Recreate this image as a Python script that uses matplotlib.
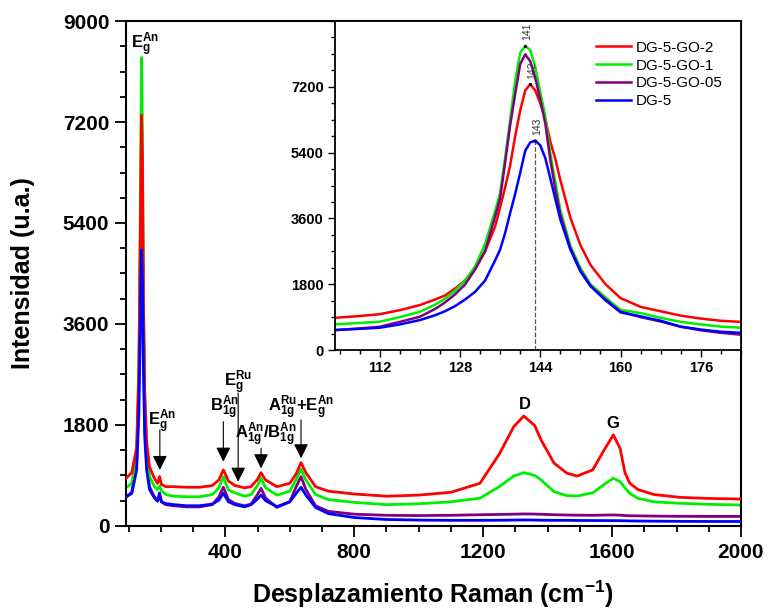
import numpy as np
import matplotlib.pyplot as plt
from matplotlib.ticker import MultipleLocator

plt.rcParams['font.family'] = ['Liberation Sans', 'DejaVu Sans']
plt.rcParams['mathtext.fontset'] = 'custom'
plt.rcParams['mathtext.rm'] = 'Liberation Sans:bold'
plt.rcParams['mathtext.it'] = 'Liberation Sans:bold'
plt.rcParams['mathtext.bf'] = 'Liberation Sans:bold'

# espectro completo (cm-1)
wn = [92, 110, 125, 132, 137, 140, 143, 146, 150, 156, 165, 180, 190, 196, 202,
      215, 240, 280, 320, 360, 380, 394, 410, 430, 460, 480, 500, 511, 525, 560,
      600, 620, 635, 650, 680, 720, 800, 900, 1000, 1100, 1190, 1250, 1295, 1326,
      1360, 1380, 1420, 1460, 1492, 1540, 1575, 1604, 1625, 1640, 1655, 1680,
      1730, 1810, 1900, 2000]

go2 = [850, 950, 1400, 2800, 5500, 7320, 6500, 4000, 2400, 1500, 1050, 850, 760, 880, 740,
       700, 700, 690, 690, 720, 820, 998, 800, 720, 680, 700, 830, 950, 820, 700,
       760, 930, 1128, 950, 700, 620, 570, 530, 550, 600, 760, 1280, 1770, 1960,
       1790, 1530, 1120, 940, 890, 1000, 1350, 1622, 1380, 950, 760, 650,
       560, 510, 490, 480]
go1 = [680, 760, 1250, 2800, 6000, 8350, 7000, 4200, 2300, 1350, 880, 700, 650, 713, 630,
       560, 530, 520, 520, 560, 680, 879, 640, 590, 530, 560, 720, 850, 680, 550,
       620, 830, 1010, 820, 560, 470, 420, 380, 395, 430, 495, 700, 890, 950,
       900, 820, 610, 540, 535, 590, 740, 850, 790, 680, 580, 493,
       430, 404, 385, 374]
go05 = [520, 600, 1100, 2500, 5000, 6900, 6000, 3500, 1900, 1100, 700, 520, 450, 560, 430,
        380, 360, 340, 340, 380, 520, 690, 470, 400, 360, 390, 560, 671, 500, 330,
        430, 700, 879, 650, 360, 260, 210, 190, 185, 190, 200, 205, 210, 214,
        212, 208, 200, 195, 192, 190, 194, 196, 192, 186, 182, 180,
        176, 172, 170, 170]
dg5 = [517, 580, 1000, 2000, 3800, 4920, 4300, 2800, 1600, 1000, 650, 500, 440, 588, 430,
       400, 380, 360, 360, 390, 460, 582, 430, 380, 340, 380, 480, 552, 450, 344,
       430, 580, 690, 550, 330, 220, 150, 115, 105, 100, 100, 102, 105, 107,
       105, 103, 100, 100, 98, 97, 96, 95, 94, 92, 90, 88,
       85, 82, 80, 80]

# zona del modo Eg (inserto)
wn_z = [103, 108, 112, 116, 120, 123, 125, 127, 129, 131, 133, 135, 136, 137, 138, 139,
        140, 141, 142, 143, 144, 145, 146, 147, 148, 150, 152, 154, 157, 160, 164,
        168, 172, 176, 180, 184]
go2_z = [880, 930, 980, 1090, 1230, 1380, 1490, 1680, 1900, 2250, 2700, 3380, 3900, 4450, 5050, 5850,
         6550, 7100, 7270, 7100, 6750, 6330, 5700, 5230, 4650, 3620, 2870, 2330, 1800, 1420, 1180,
         1060, 940, 860, 800, 770]
go1_z = [700, 740, 775, 900, 1045, 1240, 1400, 1620, 1900, 2280, 2900, 3800, 4300, 5260, 6300, 7360,
         8130, 8320, 8200, 7750, 7050, 6400, 5380, 4600, 3830, 2850, 2250, 1800, 1440, 1100, 1010,
         880, 770, 700, 640, 610]
go05_z = [545, 590, 636, 770, 910, 1120, 1300, 1520, 1790, 2200, 2700, 3650, 4150, 5130, 6150, 7000,
          7820, 8090, 7900, 7450, 6850, 6200, 5200, 4400, 3700, 2780, 2180, 1760, 1380, 1050, 900,
          780, 636, 540, 470, 420]
dg5_z = [545, 580, 609, 700, 818, 950, 1060, 1200, 1380, 1590, 1900, 2450, 2750, 3200, 3750, 4270,
         4850, 5450, 5680, 5730, 5600, 5250, 4700, 4130, 3570, 2750, 2150, 1750, 1360, 1030, 920,
         800, 640, 560, 500, 470]

nombres = ['DG-5-GO-2', 'DG-5-GO-1', 'DG-5-GO-05', 'DG-5']
colores = ['#ff0000', '#00ee00', '#800080', '#0000ff']

pico_pos = [141, 142, 143]
pico_val = [8320, 7270, 5730]

fig = plt.figure(figsize=(7.73, 6.13), dpi=100)
ax = fig.add_axes([0.163, 0.142, 0.7956, 0.8237])

capas = [3, 2, 1, 4]
for y, c, n, z in zip([go2, go1, go05, dg5], colores, nombres, capas):
    ax.plot(wn, y, color=c, lw=2, zorder=z, label=n)

ax.set_xlim(92, 2000)
ax.set_ylim(0, 9000)
ax.xaxis.set_major_locator(MultipleLocator(400))
ax.xaxis.set_minor_locator(MultipleLocator(100))
ax.yaxis.set_major_locator(MultipleLocator(1800))
ax.yaxis.set_minor_locator(MultipleLocator(450))
ax.tick_params(which='major', direction='out', length=8, width=1.3, labelsize=15, pad=4)
ax.tick_params(which='minor', direction='out', length=4.5, width=1.3)
for t in ax.get_xticklabels() + ax.get_yticklabels():
    t.set_fontweight('bold')
for s in ax.spines.values():
    s.set_linewidth(1.5)
ax.set_xlabel('Desplazamiento Raman (cm$^{-1}$)', fontsize=18, fontweight='bold', labelpad=12)
ax.set_ylabel('Intensidad (u.a.)', fontsize=18, fontweight='bold', labelpad=20)

# asignación de bandas
fl = dict(arrowstyle='-|>,head_length=0.4,head_width=0.2', color='k', lw=0.8,
          mutation_scale=22, shrinkA=0, shrinkB=0)
txt = dict(fontsize=12, fontweight='bold', ha='center', va='center')
ax.text(150, 8570, r'E$_{g}^{An}$', **txt)
ax.annotate('', xy=(197, 998), xytext=(197, 1711), arrowprops=fl)
ax.text(203, 1860, r'E$_{g}^{An}$', **txt)
ax.annotate('', xy=(394, 1146), xytext=(394, 1859), arrowprops=fl)
ax.text(399, 2103, r'B$_{1g}^{An}$', **txt)
ax.annotate('', xy=(440, 789), xytext=(440, 2370), arrowprops=fl)
ax.text(440, 2548, r'E$_{g}^{Ru}$', **txt)
ax.annotate('', xy=(511, 1028), xytext=(511, 1384), arrowprops=fl)
ax.text(525, 1622, r'A$_{1g}^{An}$/B$_{1g}^{An}$', **txt)
ax.annotate('', xy=(635, 1206), xytext=(635, 1889), arrowprops=fl)
ax.text(634, 2103, r'A$_{1g}^{Ru}$+E$_{g}^{An}$', **txt)
ax.text(1330, 2160, 'D', fontsize=12, fontweight='bold', ha='center', va='center')
ax.text(1601, 1820, 'G', fontsize=12, fontweight='bold', ha='center', va='center')

# inserto
axi = fig.add_axes([0.4334, 0.429, 0.5252, 0.5367])
for y, c, n in zip([go2_z, go1_z, go05_z, dg5_z], colores, nombres):
    axi.plot(wn_z, y, color=c, lw=1.8, label=n)
axi.set_xlim(103.1, 184)
axi.set_ylim(0, 9000)
axi.set_xticks([112, 128, 144, 160, 176])
axi.set_yticks([0, 1800, 3600, 5400, 7200])
axi.xaxis.set_minor_locator(MultipleLocator(4))
axi.yaxis.set_minor_locator(MultipleLocator(450))
axi.tick_params(which='major', direction='out', length=5, width=1, labelsize=10.5, pad=3)
axi.tick_params(which='minor', direction='out', length=3, width=1)
for t in axi.get_xticklabels() + axi.get_yticklabels():
    t.set_fontweight('bold')
for s in axi.spines.values():
    s.set_linewidth(1.3)

for p, v in zip(pico_pos, pico_val):
    axi.plot([p], [v], marker='.', ms=2.5, color='k', zorder=5)
    axi.text(p + 0.3, v + 150, str(p), rotation=90, fontsize=7.5, color='#333333',
             ha='center', va='bottom')
axi.plot([pico_pos[2], pico_pos[2]], [0, pico_val[2]], ls='--', color='#555555', lw=0.9)

axi.legend(loc='upper left', bbox_to_anchor=(0.643, 0.94), frameon=False, fontsize=11,
           handlelength=2.3, handletextpad=0.3, labelspacing=0.25, borderpad=0, borderaxespad=0)

fig.savefig('out.png', dpi=100)
